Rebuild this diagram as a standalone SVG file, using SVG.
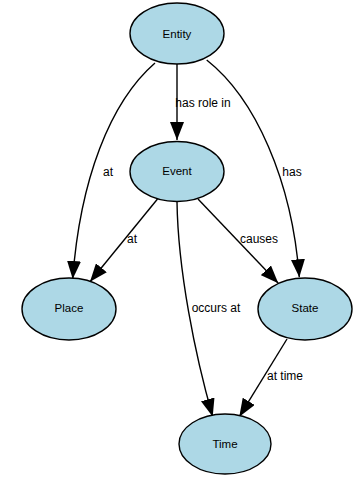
<svg xmlns="http://www.w3.org/2000/svg" width="354" height="478" viewBox="0 0 354 478">
<style>
  .node ellipse { fill: #ADD8E6; stroke: #000; stroke-width: 1.4; }
  .node text { font-family: "Liberation Sans", Arial, sans-serif; font-size: 11.5px; fill: #000; text-anchor: middle; }
  .edges path { fill: none; stroke: #000; stroke-width: 1.4; marker-end: url(#arrow); }
  .edges text { font-family: "Liberation Sans", Arial, sans-serif; font-size: 12px; fill: #000; text-anchor: middle; }
</style>
<defs>
  <marker id="arrow" markerUnits="userSpaceOnUse" markerWidth="18" markerHeight="14" viewBox="0 0 18 14" refX="18" refY="7" orient="auto">
    <path d="M0,0 L18,7 L0,14 z" fill="#000"/>
  </marker>
</defs>
<rect width="354" height="478" fill="#fff"/>
<g class="edges" id="edges">
  <path d="M177,64 L177,140"/>
  <text x="203" y="107">has role in</text>
  <path d="M155,63 C110,102 80,180 72.7,279"/>
  <text x="108" y="175.5">at</text>
  <path d="M206.7,60 C255,98 292,180 299.3,277.3"/>
  <text x="292" y="175.5">has</text>
  <path d="M157.5,199 L90,281.7"/>
  <text x="132" y="243">at</text>
  <path d="M198,199 L278.3,283.3"/>
  <text x="259" y="243">causes</text>
  <path d="M177,202 C178,270 195,355 212.7,416.7"/>
  <text x="216" y="312">occurs at</text>
  <path d="M287,339 L239.3,416.7"/>
  <text x="285" y="380">at time</text>
</g>
<g class="node" id="entity">
  <ellipse cx="177" cy="33.5" rx="47" ry="30.5"/>
  <text x="177" y="38">Entity</text>
</g>
<g class="node" id="event">
  <ellipse cx="177" cy="171.5" rx="47" ry="30"/>
  <text x="177" y="175">Event</text>
</g>
<g class="node" id="place">
  <ellipse cx="69" cy="309" rx="47" ry="31"/>
  <text x="69" y="312">Place</text>
</g>
<g class="node" id="state">
  <ellipse cx="305" cy="309" rx="47" ry="31"/>
  <text x="305" y="312">State</text>
</g>
<g class="node" id="time">
  <ellipse cx="225" cy="444" rx="46" ry="30"/>
  <text x="225" y="447.5">Time</text>
</g>
</svg>
